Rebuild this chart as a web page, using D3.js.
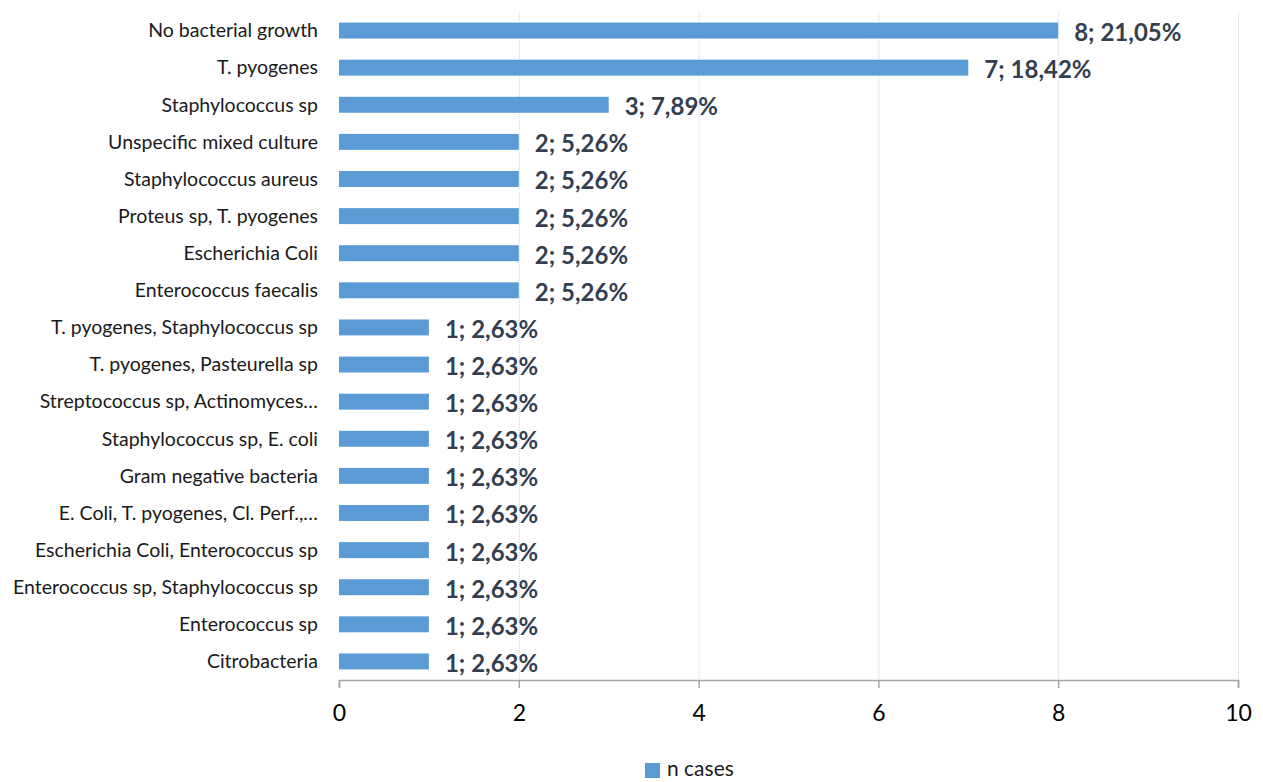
<!DOCTYPE html>
<html>
<head>
<meta charset="utf-8">
<script src="https://cdn.jsdelivr.net/npm/d3@7"></script>
<style>
  body { margin: 0; background: #fff; }
  text { font-family: Lato, "Liberation Sans", sans-serif; }
</style>
</head>
<body>
<script>
const categories = [
  "No bacterial growth",
  "T. pyogenes",
  "Staphylococcus sp",
  "Unspecific mixed culture",
  "Staphylococcus aureus",
  "Proteus sp, T. pyogenes",
  "Escherichia Coli",
  "Enterococcus faecalis",
  "T. pyogenes, Staphylococcus sp",
  "T. pyogenes, Pasteurella sp",
  "Streptococcus sp, Actinomyces…",
  "Staphylococcus sp, E. coli",
  "Gram negative bacteria",
  "E. Coli, T. pyogenes, Cl. Perf.,…",
  "Escherichia Coli, Enterococcus sp",
  "Enterococcus sp, Staphylococcus sp",
  "Enterococcus sp",
  "Citrobacteria"
];
const cases = [8, 7, 3, 2, 2, 2, 2, 2, 1, 1, 1, 1, 1, 1, 1, 1, 1, 1];
const xTicks = [0, 2, 4, 6, 8, 10];
const seriesName = "n cases";

const width = 1263, height = 782;
const margin = {top: 12, right: 25, bottom: 102, left: 339};
const total = d3.sum(cases);
const data = categories.map((c, i) => ({name: c, value: cases[i]}));

const svg = d3.select("body").append("svg")
  .attr("width", width)
  .attr("height", height);

const x = d3.scaleLinear()
  .domain([0, 10])
  .range([margin.left, width - margin.right]);

const y = d3.scaleBand()
  .domain(categories)
  .range([margin.top, height - margin.bottom]);

const barH = y.bandwidth() * 0.43;

// dotted gridlines
svg.append("g")
  .selectAll("line")
  .data(xTicks.filter(d => d > 0))
  .join("line")
  .attr("x1", d => x(d) + 0.5)
  .attr("x2", d => x(d) + 0.5)
  .attr("y1", margin.top)
  .attr("y2", height - margin.bottom)
  .attr("stroke", "#c9d3ea")
  .attr("stroke-dasharray", "1,1");

// bars
svg.append("g")
  .selectAll("rect")
  .data(data)
  .join("rect")
  .attr("x", x(0))
  .attr("y", d => y(d.name) + y.bandwidth() / 2 - barH / 2)
  .attr("width", d => x(d.value) - x(0))
  .attr("height", barH)
  .attr("fill", "#5b9bd5");

// category labels
svg.append("g")
  .selectAll("text")
  .data(data)
  .join("text")
  .attr("x", margin.left - 21)
  .attr("y", d => y(d.name) + y.bandwidth() / 2)
  .attr("dy", "0.35em")
  .attr("text-anchor", "end")
  .attr("font-size", 19.5)
  .attr("fill", "#1a1a1a")
  .text(d => d.name);

// data labels
const pct = d3.format(".2f");
svg.append("g")
  .selectAll("text")
  .data(data)
  .join("text")
  .attr("x", d => x(d.value) + 16)
  .attr("y", d => y(d.name) + y.bandwidth() / 2 + 2)
  .attr("dy", "0.35em")
  .attr("font-size", 24)
  .attr("font-weight", "bold")
  .attr("fill", "#333f50")
  .text(d => `${d.value}; ${pct(d.value / total * 100).replace(".", ",")}%`);

// x axis
const xAxis = d3.axisBottom(x)
  .tickValues(xTicks)
  .tickSize(8)
  .tickPadding(17);

const gx = svg.append("g")
  .attr("transform", `translate(0,${height - margin.bottom})`)
  .call(xAxis);
gx.select(".domain").attr("stroke", "#a6a6a6").attr("stroke-width", 1.5);
gx.selectAll(".tick line").attr("stroke", "#a6a6a6").attr("stroke-width", 1.5);
gx.selectAll(".tick text")
  .attr("font-size", 23)
  .attr("font-family", "Lato, 'Liberation Sans', sans-serif")
  .attr("fill", "#000");

// legend (the reference crops it at the bottom edge; kept just inside)
const legend = svg.append("g")
  .attr("transform", `translate(645,769)`);
legend.append("rect")
  .attr("x", 0)
  .attr("y", -6)
  .attr("width", 15)
  .attr("height", 15)
  .attr("fill", "#5b9bd5");
legend.append("text")
  .attr("x", 22)
  .attr("y", 0)
  .attr("dy", "0.32em")
  .attr("font-size", 21)
  .attr("fill", "#1a1a1a")
  .text(seriesName);
</script>
</body>
</html>
